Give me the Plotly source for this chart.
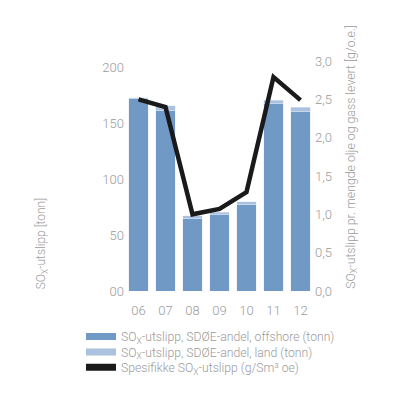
import plotly.graph_objects as go

years = ["06", "07", "08", "09", "10", "11", "12"]
offshore = [171.5, 161.3, 64.6, 67.9, 77.1, 167.3, 160.7]
land = [1.2, 3.9, 2.4, 2.4, 2.4, 3.0, 3.3]
specific = [2.50, 2.40, 1.00, 1.07, 1.29, 2.79, 2.49]

left_ticks = [0, 50, 100, 150, 200]
left_labels = ["00", "50", "100", "150", "200"]
right_ticks = [0, 0.5, 1.0, 1.5, 2.0, 2.5, 3.0]
right_labels = ["0,0", "0,5", "1,0", "1,5", "2,0", "2,5", "3,0"]

names = [
    "SO<sub>X</sub>-utslipp, SDØE-andel, offshore (tonn)",
    "SO<sub>X</sub>-utslipp, SDØE-andel, land (tonn)",
    "Spesifikke SO<sub>X</sub>-utslipp (g/Sm³ oe)",
]

DARK = "#7099c6"
LIGHT = "#abc1e0"
BLACK = "#1a1a1a"
GREY = "#9b9b9b"
FONT = "Roboto"

fig = go.Figure()
fig.add_trace(go.Bar(x=years, y=offshore, marker=dict(color=DARK), showlegend=False))
fig.add_trace(go.Bar(x=years, y=land, marker=dict(color=LIGHT), showlegend=False))
fig.add_trace(go.Scatter(x=years, y=specific, yaxis="y2", mode="lines",
                         line=dict(color=BLACK, width=4.5), showlegend=False))

# legend entries drawn as thick line stubs so they look like the flat swatches,
# one legend per row so the rows can sit closer than plotly's default spacing
legend_ids = ["legend", "legend2", "legend3"]
for name, col, lg in zip(names, [DARK, LIGHT, BLACK], legend_ids):
    fig.add_trace(go.Scatter(x=[None], y=[None], mode="lines", name=name, legend=lg,
                             line=dict(color=col, width=7)))

legend_style = dict(xref="container", yref="container", x=0.1825,
                    xanchor="left", yanchor="top",
                    font=dict(size=12.2, color=GREY), bgcolor="rgba(0,0,0,0)")

# the page body adds an 8px offset, margins are reduced by that amount
fig.update_layout(
    width=400, height=400,
    margin=dict(l=117, r=94, t=53, b=117, autoexpand=False),
    barmode="stack", bargap=0.26,
    plot_bgcolor="white", paper_bgcolor="white",
    font=dict(family=FONT, color=GREY, size=13, weight=300),
    xaxis=dict(showgrid=False, showline=False, ticks="", ticklabelstandoff=10,
               tickfont=dict(size=13)),
    yaxis=dict(range=[0, 200 * 230 / 224], tickvals=left_ticks, ticktext=left_labels,
               showgrid=False, zeroline=False, showline=False, tickfont=dict(size=13)),
    yaxis2=dict(range=[0, 3.0], tickvals=right_ticks, ticktext=right_labels,
                overlaying="y", side="right", showgrid=False, zeroline=False,
                showline=False, tickfont=dict(size=13)),
    legend=dict(legend_style, y=0.215),
    legend2=dict(legend_style, y=0.176),
    legend3=dict(legend_style, y=0.138),
    annotations=[
        dict(text="SO<sub>X</sub>-utslipp [tonn]", textangle=-90,
             xref="paper", yref="paper", x=-0.44, y=0, xanchor="center", yanchor="bottom",
             showarrow=False, font=dict(size=12, color=GREY)),
        dict(text="SO<sub>X</sub>-utslipp pr. mengde olje og gass levert [g/o.e.]",
             textangle=-90, xref="paper", yref="paper", x=1.2, y=0,
             xanchor="center", yanchor="bottom",
             showarrow=False, font=dict(size=12.3, color=GREY)),
    ],
)

fig.write_html("out.html")
